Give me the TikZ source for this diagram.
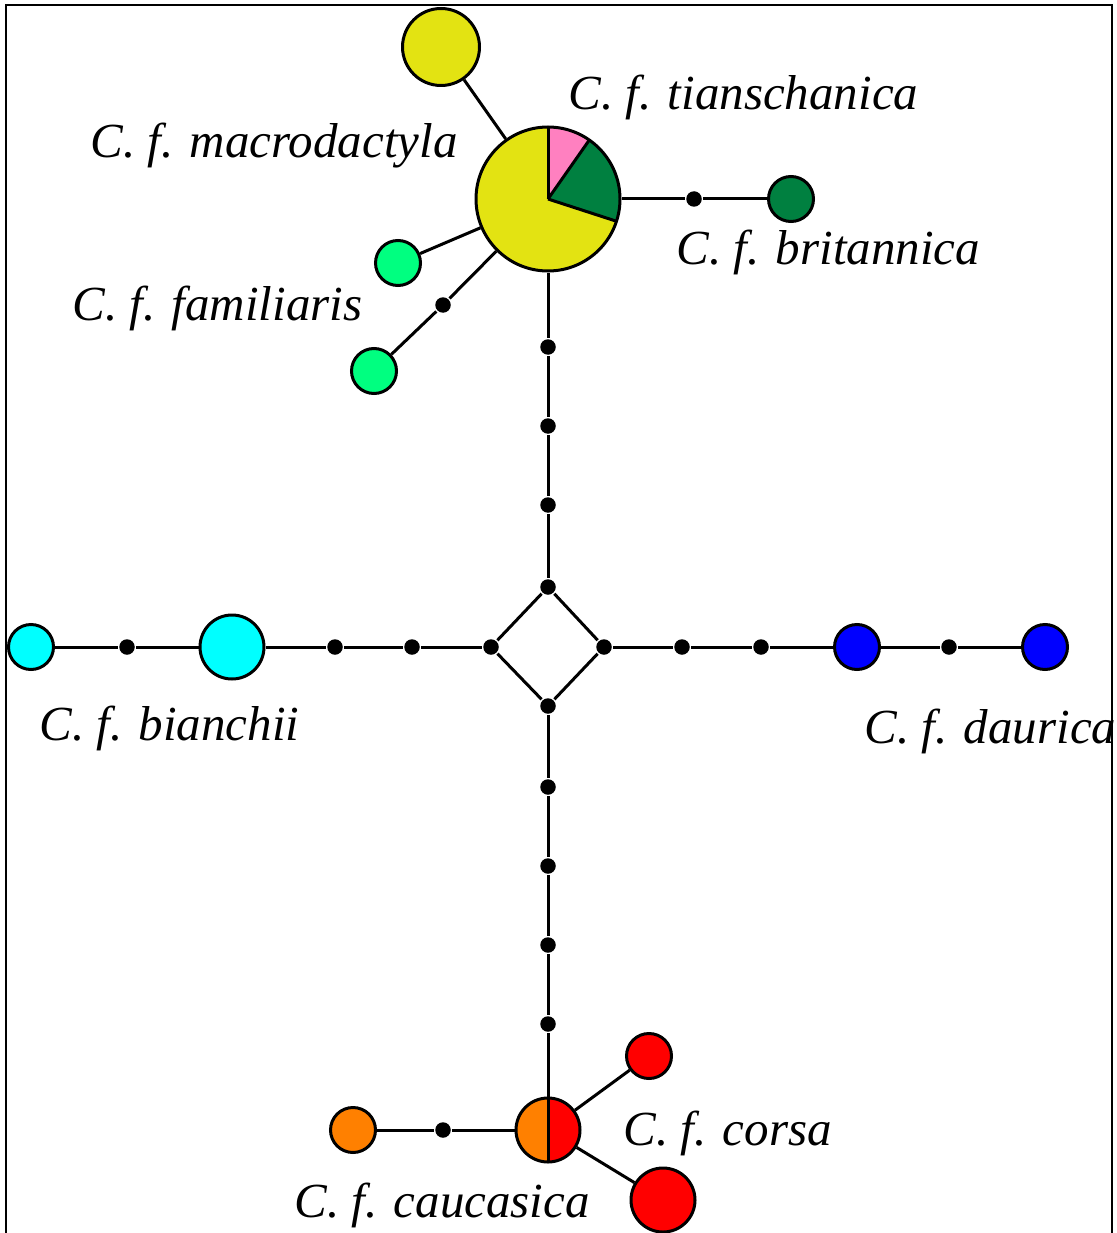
\documentclass[tikz,border=0pt]{standalone}
\usepackage{fontspec}
\setmainfont{Liberation Serif}
\definecolor{cyel}{RGB}{227,227,18}
\definecolor{cpink}{RGB}{255,128,192}
\definecolor{cdgreen}{RGB}{0,128,64}
\definecolor{clgreen}{RGB}{0,255,128}
\definecolor{ccyan}{RGB}{0,255,255}
\definecolor{cblue}{RGB}{0,0,255}
\definecolor{corange}{RGB}{255,128,0}
\definecolor{cred}{RGB}{255,0,0}
\begin{document}
\begin{tikzpicture}[x=1pt,y=1pt,line width=3pt,
  hap/.style={circle,draw=black,line width=3pt,inner sep=0pt,minimum size=#1},
  hapshape/.style={circle,inner sep=0pt,outer sep=1.5pt,minimum size=#1},
  mv/.style={circle,fill=black,inner sep=0pt,minimum size=15.5pt},
  lab/.style={anchor=base west,inner sep=0pt,font=\fontsize{49}{55}\selectfont\itshape},
  link/.style={draw=black,line width=3pt}]
\useasboundingbox (0,0) rectangle (1116,-1233);
\draw[line width=2pt] (6,-1233) -- (6,-5) -- (1112,-5) -- (1112,-1233);

% haplotype circles
\node[hapshape=144pt] (pie) at (548,-199) {};
\fill[cyel] (pie.center) circle[radius=72];
\fill[cdgreen] (pie.center) -- ++(-18:72) arc[start angle=-18,end angle=55,radius=72] -- cycle;
\fill[cpink] (pie.center) -- ++(55:72) arc[start angle=55,end angle=90,radius=72] -- cycle;
\draw[line width=3pt] (pie.center) -- ++(90:72);
\draw[line width=3pt] (pie.center) -- ++(55:72);
\draw[line width=3pt] (pie.center) -- ++(-18:72);
\draw[line width=3pt] (pie.center) circle[radius=72];

\node[hap=77pt,fill=cyel] (topY) at (441,-47) {};
\node[hap=45pt,fill=clgreen] (fam1) at (398,-263) {};
\node[mv] (famdot) at (443,-305) {};
\node[hap=45pt,fill=clgreen] (fam2) at (374,-371) {};
\node[mv] (bdot) at (694,-199) {};
\node[hap=45pt,fill=cdgreen] (brit) at (791,-199) {};

\node[mv] (v1) at (548,-347) {};
\node[mv] (v2) at (548,-426) {};
\node[mv] (v3) at (548,-505) {};
\node[mv] (dT) at (548,-587) {};
\node[mv] (dL) at (491,-647) {};
\node[mv] (dR) at (604,-647) {};
\node[mv] (dB) at (548,-706) {};

\node[mv] (l1) at (412,-647) {};
\node[mv] (l2) at (335,-647) {};
\node[hap=64pt,fill=ccyan] (bian1) at (232,-647) {};
\node[mv] (l3) at (127,-647) {};
\node[hap=45pt,fill=ccyan] (bian2) at (31,-647) {};

\node[mv] (r1) at (682,-647) {};
\node[mv] (r2) at (761,-647) {};
\node[hap=45pt,fill=cblue] (dau1) at (857,-647) {};
\node[mv] (r3) at (949,-647) {};
\node[hap=45pt,fill=cblue] (dau2) at (1045,-647) {};

\node[mv] (b1) at (548,-787) {};
\node[mv] (b2) at (548,-866) {};
\node[mv] (b3) at (548,-945) {};
\node[mv] (b4) at (548,-1024) {};

\node[hapshape=64pt] (cc) at (548,-1130) {};
\fill[corange] (cc.center) -- ++(90:32) arc[start angle=90,end angle=270,radius=32] -- cycle;
\fill[cred] (cc.center) -- ++(-90:32) arc[start angle=-90,end angle=90,radius=32] -- cycle;
\draw[line width=3pt] (cc.center) ++(0,32) -- ++(0,-64);
\draw[line width=3pt] (cc.center) circle[radius=32];

\node[mv] (odot) at (443,-1130) {};
\node[hap=45pt,fill=corange] (or1) at (353,-1130) {};
\node[hap=45pt,fill=cred] (rs) at (649,-1056) {};
\node[hap=64pt,fill=cred] (rb) at (663,-1200) {};

% connectors
\draw[link] (pie) -- (topY);
\draw[link] (pie) -- (fam1);
\draw[link] (pie) -- (famdot) -- (fam2);
\draw[link] (pie) -- (bdot) -- (brit);
\draw[link] (pie) -- (v1) -- (v2) -- (v3) -- (dT);
\draw[link] (dT) -- (dL) -- (dB) -- (dR) -- (dT);
\draw[link] (dL) -- (l1) -- (l2) -- (bian1) -- (l3) -- (bian2);
\draw[link] (dR) -- (r1) -- (r2) -- (dau1) -- (r3) -- (dau2);
\draw[link] (dB) -- (b1) -- (b2) -- (b3) -- (b4) -- (cc);
\draw[link] (cc) -- (odot) -- (or1);
\draw[link] (cc) -- (rs);
\draw[link] (cc) -- (rb);

% labels
\node[lab] (t1) at (567,-110) {C. f. tianschanica};
\node[lab] (t2) at (89,-158) {C. f. macrodactyla};
\node[lab] (t3) at (675,-265) {C. f. britannica};
\node[lab] (t4) at (71,-320) {C. f. familiaris};
\node[lab] (t5) at (38,-740) {C. f. bianchii};
\node[lab] (t6) at (863,-743) {C. f. daurica};
\node[lab] (t7) at (622,-1145) {C. f. corsa};
\node[lab] (t8) at (293,-1217) {C. f. caucasica};
\end{tikzpicture}
\end{document}
